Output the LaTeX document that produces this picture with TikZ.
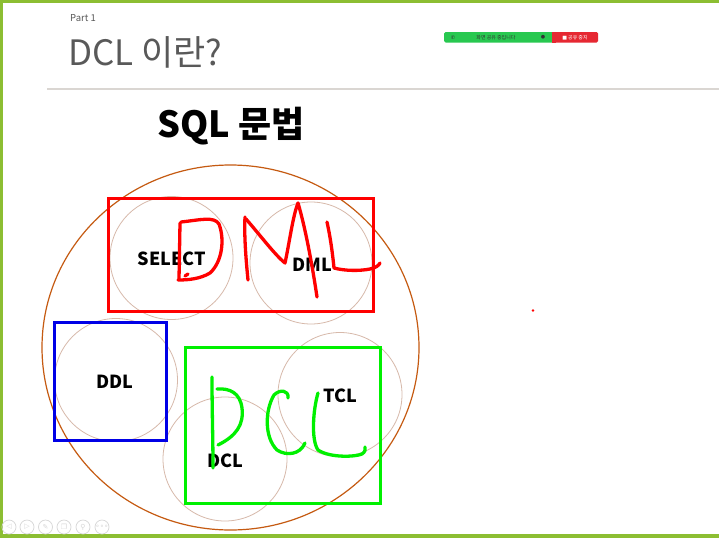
\documentclass[tikz,border=0pt]{standalone}
\usepackage{fontspec}
\setmainfont{Noto Sans CJK KR}
\newfontfamily\dejavu{DejaVu Sans}
\usetikzlibrary{calc}
\definecolor{framegreen}{RGB}{140,190,50}
\definecolor{titlegray}{RGB}{89,89,89}
\definecolor{rulegray}{RGB}{218,214,210}
\definecolor{ringbrown}{RGB}{197,90,17}
\definecolor{thincirc}{RGB}{215,185,170}
\definecolor{inkred}{RGB}{255,0,0}
\definecolor{inkgreen}{RGB}{0,240,0}
\definecolor{boxblue}{RGB}{0,0,230}
\definecolor{sharegreen}{RGB}{40,200,80}
\definecolor{sharered}{RGB}{230,40,50}
\definecolor{navgray}{RGB}{215,215,215}
\tikzset{
  setcirc/.style={draw=thincirc, line width=0.8pt},
  lbl/.style={font=\fontsize{18}{20}\selectfont\bfseries, text=black, inner sep=0pt},
  redbox/.style={draw=inkred, line width=3pt},
  greenbox/.style={draw=inkgreen, line width=3pt},
  bluebox/.style={draw=boxblue, line width=3pt},
  redink/.style={draw=inkred, line width=3.3pt, line cap=round, line join=round},
  greenink/.style={draw=inkgreen, line width=3.3pt, line cap=round, line join=round},
  navbtn/.style={draw=navgray, line width=0.7pt, circle, minimum size=14pt, inner sep=0pt, text=navgray, font=\dejavu\fontsize{7}{7}\selectfont},
}
\begin{document}
\begin{tikzpicture}[x=1pt,y=-1pt]
\useasboundingbox (0,0) rectangle (719,538);
\fill[white] (0,0) rectangle (719,538);
% frame
\fill[framegreen] (0,0) rectangle (719,2.5);
\fill[framegreen] (0,0) rectangle (2.5,538);
\fill[framegreen] (0,533.5) rectangle (719,538);
% header
\node[anchor=base west, inner sep=0pt, text=titlegray, font=\fontsize{9.5}{10}\selectfont] (part) at (70,21) {Part 1};
\node[anchor=base west, inner sep=0pt, text=titlegray, font=\fontsize{35}{38}\selectfont] (title) at (68,65) {DCL 이란?};
\draw[rulegray, line width=1.2pt] (47,89) -- (719,89);
% share bar
\fill[sharegreen, rounded corners=1.5pt] (444,32) rectangle (556,42.5);
\fill[sharered, rounded corners=1.5pt] (552,32) rectangle (598,42.5);
\fill[sharered] (552,32) rectangle (556,42.5);
\node[inner sep=0pt, font=\fontsize{5}{5}\selectfont, text=black!80] (sharetxt) at (496,37.3) {화면 공유 중입니다};
\node[inner sep=0pt, font=\dejavu\fontsize{5}{5}\selectfont, text=black!80] (phone) at (453,37.3) {✆};
\node[inner sep=0pt, font=\dejavu\fontsize{5}{5}\selectfont, text=black!80] (okmark) at (543,37.3) {●};
\node[inner sep=0pt, font=\fontsize{5}{5}\selectfont, text=white] (stoptxt) at (575,37.3) {{\dejavu ■} 공유 중지};
% heading
\node[inner sep=0pt, font=\fontsize{36}{38}\selectfont\bfseries] (sql) at (231,126) {SQL 문법};
% big ellipse
\draw[ringbrown, line width=1.2pt] (230.5,347.5) ellipse [x radius=188.5, y radius=182.5];
% small circles
\draw[setcirc] (171.5,258) circle (61.5);
\draw[setcirc] (311,263) circle (61);
\draw[setcirc] (116,380) circle (61.5);
\draw[setcirc] (225,459) circle (62);
\draw[setcirc] (340,394.5) circle (62);
% boxes
\draw[redbox] (108,198) rectangle (373,311);
\draw[bluebox] (54,322) rectangle (166,440);
\draw[greenbox] (185,347.5) rectangle (380,503);
% labels
\node[lbl] (select) at (172,259) {SELECT};
\node[lbl] (dml) at (312,265) {DML};
\node[lbl] (ddl) at (115,382) {DDL};
\node[lbl] (tcl) at (340,396) {TCL};
\node[lbl] (dcl) at (225,461) {DCL};
% red handwriting DML
\draw[redink] (180,223) -- (179,279);
\draw[redink] (181,222) .. controls (200,220) and (214,216) .. (219,224) .. controls (225,240) and (222,262) .. (210,273) .. controls (200,279) and (188,280) .. (178,280);
\draw[redink] (188,274) -- (185,276);
\draw[redink] (248,280) .. controls (246,260) and (244,235) .. (245,217);
\draw[redink] (246,219) .. controls (260,235) and (275,255) .. (285,263) .. controls (289,245) and (293,215) .. (298,203) .. controls (306,230) and (313,270) .. (317,297);
\draw[redink] (327,222) .. controls (331,240) and (333,258) .. (334,268) .. controls (345,271) and (360,271) .. (370,269) .. controls (376,268) and (379,265) .. (380,263);
% green handwriting DCL
\draw[greenink] (212,377) .. controls (212,410) and (213,440) .. (213,468);
\draw[greenink] (217,389) .. controls (230,388) and (240,393) .. (242,408) .. controls (244,425) and (236,436) .. (218,445);
\draw[greenink] (288,398) .. controls (289,390) and (280,389) .. (274,395) .. controls (265,410) and (264,437) .. (277,450) .. controls (286,456) and (300,455) .. (305,443);
\draw[greenink] (318,393) .. controls (313,410) and (311,440) .. (318,450) .. controls (330,458) and (355,457) .. (362,454) .. controls (365,452) and (366,449) .. (365,447);
% red dot
\fill[inkred] (533,310.5) circle (1.4);
% nav buttons
\node[navbtn] (nav1) at (9,527) {◁};
\node[navbtn] (nav2) at (27,527) {▷};
\node[navbtn] (nav3) at (45.5,527) {✎};
\node[navbtn] (nav4) at (64,527) {❐};
\node[navbtn] (nav5) at (83,527) {⚲};
\node[navbtn] (nav6) at (102,527) {∘∘∘};
\end{tikzpicture}
\end{document}
